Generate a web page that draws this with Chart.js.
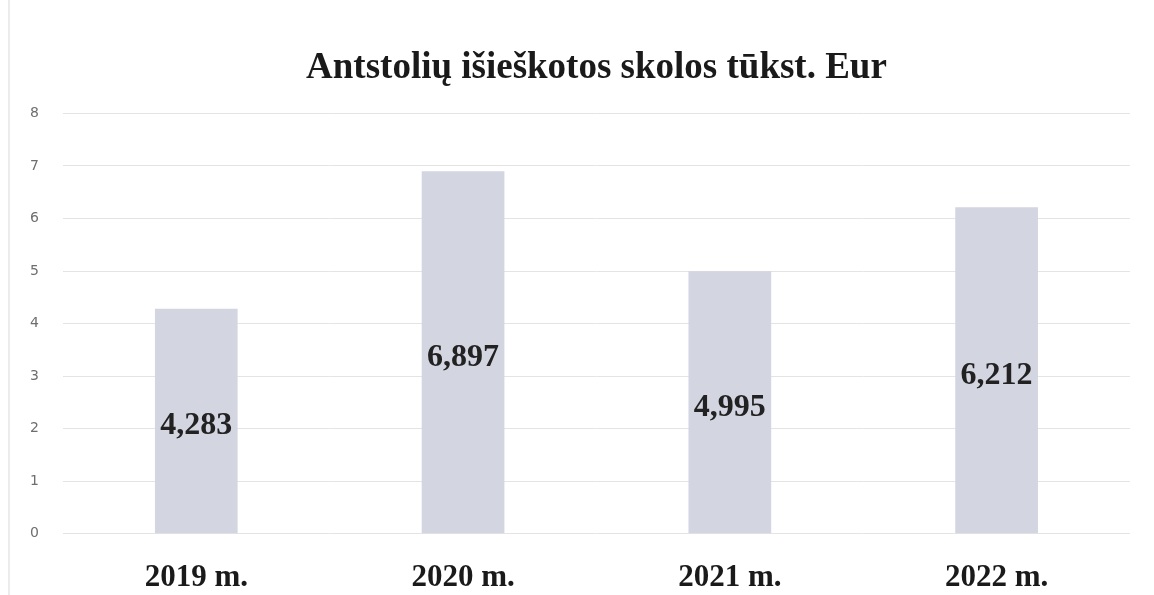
<!DOCTYPE html>
<html>
<head>
<meta charset="utf-8">
<script src="https://cdn.jsdelivr.net/npm/chart.js@4/dist/chart.umd.min.js"></script>
<style>
  html, body { margin: 0; padding: 0; background: #fff; }
  #wrap { position: relative; width: 1154px; height: 595px; }
  #wrap:before { content: ''; position: absolute; left: 8px; top: 0; bottom: 0; width: 2px; background: #ececec; }
</style>
</head>
<body>
<div id="wrap"><canvas id="chart" width="1154" height="595"></canvas></div>
<script>
const metai = ['2019 m.', '2020 m.', '2021 m.', '2022 m.'];
const skolos = [4.283, 6.897, 4.995, 6.212];
const yTicks = [0, 1, 2, 3, 4, 5, 6, 7, 8];

// reikšmės bare viduryje, kablelis kaip skyriklis
const barLabels = {
    id: 'barLabels',
    afterDatasetsDraw(chart) {
        const c = chart.ctx;
        c.save();
        c.font = 'bold 32px "Liberation Serif", serif';
        c.fillStyle = '#222';
        c.textAlign = 'center';
        c.textBaseline = 'middle';
        chart.getDatasetMeta(0).data.forEach((bar, i) => {
            const txt = skolos[i].toFixed(3).replace('.', ',');
            c.fillText(txt, bar.x, (bar.y + bar.base) / 2 + 5);
        });
        c.restore();
    }
};

new Chart(document.getElementById('chart'), {
    type: 'bar',
    data: {
        labels: metai,
        datasets: [{
            data: skolos,
            backgroundColor: '#d3d5e1',
            barPercentage: 0.31,
            categoryPercentage: 1
        }]
    },
    options: {
        responsive: false,
        animation: false,
        layout: { padding: { left: 6, right: 24, top: 0, bottom: -20 } },
        plugins: {
            legend: { display: false },
            tooltip: { enabled: false },
            title: {
                display: true,
                fullSize: false,
                text: 'Antstolių išieškotos skolos tūkst. Eur',
                color: '#1a1a1a',
                font: { family: '"Liberation Serif", serif', size: 37, weight: 'bold' },
                padding: { top: 46, bottom: 23 }
            }
        },
        scales: {
            y: {
                min: 0,
                max: 8,
                afterBuildTicks: axis => { axis.ticks = yTicks.map(v => ({ value: v })); },
                ticks: { color: '#6e6e6e', font: { family: '"DejaVu Sans", sans-serif', size: 14 }, padding: 24 },
                grid: { color: '#e4e4e4', drawTicks: false },
                border: { display: false }
            },
            x: {
                ticks: { color: '#1a1a1a', font: { family: '"Liberation Serif", serif', size: 31, weight: 'bold' }, padding: 18 },
                grid: { display: false },
                border: { display: false }
            }
        }
    },
    plugins: [barLabels]
});
</script>
</body>
</html>
